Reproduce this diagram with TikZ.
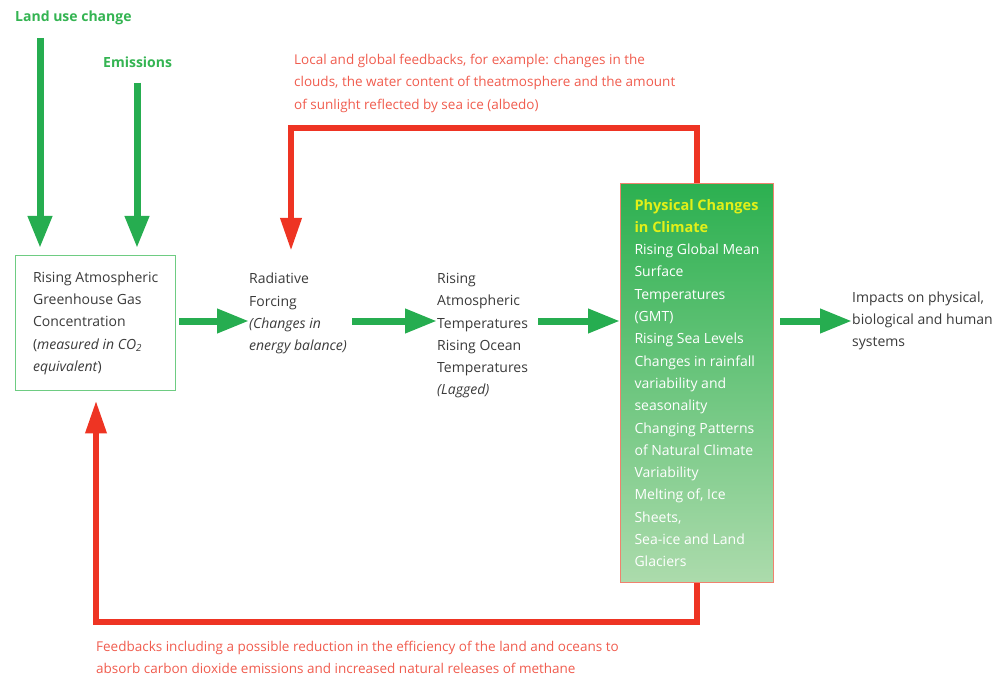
\documentclass[tikz,border=0pt]{standalone}
\usepackage{fontspec}
\setmainfont{Open Sans}
\usetikzlibrary{arrows.meta,positioning}

\definecolor{flowgreen}{RGB}{38,173,80}
\definecolor{labelgreen}{RGB}{52,180,82}
\definecolor{boxgreen}{RGB}{110,204,130}
\definecolor{loopred}{RGB}{238,52,35}
\definecolor{notered}{RGB}{240,92,78}
\definecolor{boxtop}{RGB}{44,176,80}
\definecolor{boxbottom}{RGB}{172,219,172}
\definecolor{boxedge}{RGB}{240,130,110}
\definecolor{headyellow}{RGB}{226,240,24}
\definecolor{bodygray}{RGB}{58,58,58}

\tikzset{
  txt/.style={font=\fontsize{14}{22.3}\selectfont, text=bodygray, align=left, inner sep=0pt},
  flow/.style={draw=flowgreen, line width=7pt, -{Triangle[length=32pt,width=23pt]}},
  loop/.style={draw=loopred, line width=6.5pt, line join=miter, -{Triangle[length=33pt,width=20pt]}},
  driver/.style={font=\fontsize{14}{17}\selectfont\bfseries, text=labelgreen, inner sep=0pt, anchor=west},
  note/.style={font=\fontsize{13.5}{22.3}\selectfont, text=notered, align=left, inner sep=0pt, anchor=north west}
}

\begin{document}
\begin{tikzpicture}[x=1pt, y=-1pt]
    \useasboundingbox (0,0) rectangle (1001,679);

    % Drivers (top left)
    \node[driver] (landuse) at (15,18) {Land use change};
    \node[driver] (emissions) at (103,62) {Emissions};
    \coordinate (lutop) at (40,38);

    % Chain of boxes
    \node[txt, draw=boxgreen, line width=1.4pt, anchor=north west,
          minimum width=160pt, minimum height=135pt] (ghg) at (15,255)
      {Rising Atmospheric\\Greenhouse Gas\\Concentration\\(\textit{measured in CO\textsubscript{2}}\\\textit{equivalent})};
    \node[txt, anchor=north west] (forcing) at (249,273)
      {Radiative\\Forcing\\\textit{(Changes in}\\\textit{energy balance)}};
    \node[txt, anchor=north west] (temps) at (437,273)
      {Rising\\Atmospheric\\Temperatures\\Rising Ocean\\Temperatures\\\textit{(Lagged)}};
    \node[txt, text=white, draw=boxedge, line width=1pt, top color=boxtop, bottom color=boxbottom,
          anchor=north west, minimum width=153pt, minimum height=399pt] (physical) at (620,183)
      {{\bfseries\color{headyellow}\fontsize{14.5}{22.3}\selectfont Physical Changes}\\
       {\bfseries\color{headyellow}\fontsize{14.5}{22.3}\selectfont in Climate}\\
       Rising Global Mean\\Surface\\Temperatures\\(GMT)\\Rising Sea Levels\\
       Changes in rainfall\\variability and\\seasonality\\Changing Patterns\\
       of Natural Climate\\Variability\\Melting of, Ice\\Sheets,\\Sea-ice and Land\\Glaciers};
    \node[txt, anchor=west] (impacts) at (852,321)
      {Impacts on physical,\\biological and human\\systems};

    % Feedback notes
    \node[note] (feedtop) at (294,54)
      {Local and global feedbacks, for example: changes in the\\
       clouds, the water content of theatmosphere and the amount\\
       of sunlight reflected by sea ice (albedo)};
    \node[note] (feedbottom) at (96,641)
      {Feedbacks including a possible reduction in the efficiency of the land and oceans to\\
       absorb carbon dioxide emissions and increased natural releases of methane};

    % Green arrows
    \coordinate (row) at (0,321);
    \draw[flow, shorten >=7pt] (lutop) -- (lutop |- ghg.north);
    \draw[flow, shorten <=15pt, shorten >=7pt] (emissions.south -| 137,0) -- (137,255);
    \foreach \a/\b/\gap in {ghg/forcing/3, forcing/temps/5, temps/physical/10, physical/impacts/6} {
      \draw[flow, shorten <=\gap pt] (\a.east |- row) -- (\b.west |- row);
    }

    % Red feedback loops
    \coordinate (fbtop) at (291,128);
    \coordinate (fbbot) at (96,622);
    \draw[loop, shorten >=22pt] (physical.north) |- (fbtop) -- (fbtop |- forcing.north);
    \draw[loop, shorten >=9pt] (physical.south) |- (fbbot) -- (fbbot |- ghg.south);
\end{tikzpicture}
\end{document}
